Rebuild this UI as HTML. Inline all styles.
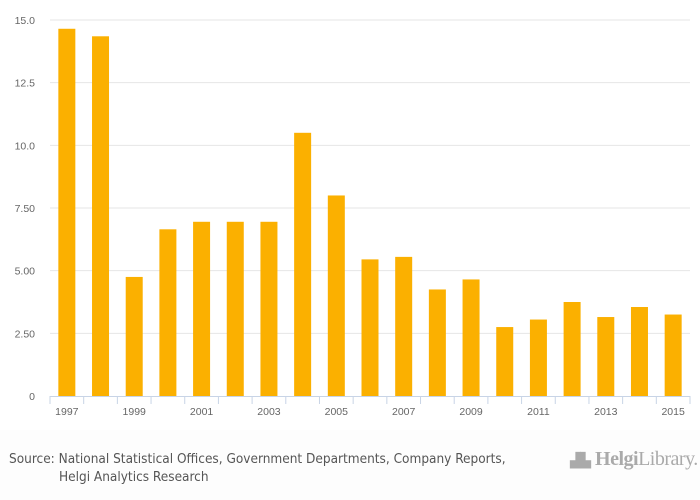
<!DOCTYPE html>
<html><head><meta charset="utf-8"><style>
body{margin:0;background:#fff;font-family:"Liberation Sans",sans-serif}
#wrap{position:relative;width:700px;height:500px;overflow:hidden;background:#fff}
#footer{position:absolute;left:0;top:430px;width:700px;height:70px;background:#fdfdfd}
#src{position:absolute;left:9px;top:450px;font-size:13.5px;line-height:18px;color:#555;font-family:"DejaVu Sans Condensed","Liberation Sans Narrow","Liberation Sans",sans-serif}
#logo{position:absolute;left:570px;top:448px;font-size:20px;color:#aaa;font-family:"Liberation Serif",serif;letter-spacing:-0.5px}
</style></head><body>
<div id="wrap">
<svg id="chart" width="700" height="430" style="position:absolute;left:0;top:0"></svg>
<div id="footer"></div>
<div id="src">Source: National Statistical Offices, Government Departments, Company Reports,<br><span style="padding-left:50px">Helgi Analytics Research</span></div>
<div id="logo"><span style="font-size:14px">▟▙</span> <b style="font-weight:bold">Helgi</b>Library.</div>
</div>
<script>
const categories=["1997","1998","1999","2000","2001","2002","2003","2004","2005","2006","2007","2008","2009","2010","2011","2012","2013","2014","2015"];
const values=[14.65,14.35,4.75,6.65,6.95,6.95,6.95,10.5,8.0,5.45,5.55,4.25,4.65,2.75,3.05,3.75,3.15,3.55,3.25];
const yTicks=[0,2.5,5,7.5,10,12.5,15];
const yTickLabels=["0","2.50","5.00","7.50","10.0","12.5","15.0"];
const NS="http://www.w3.org/2000/svg";
const svg=document.getElementById('chart');
const x0=50,x1=690,y0=396,yTop=20,yMax=15;
const step=(x1-x0)/categories.length;
function y(v){return y0-(v/yMax)*(y0-yTop);}
function xc(i){return x0+step*(i+0.5);}
function mk(t,a){const e=document.createElementNS(NS,t);for(const k in a)e.setAttribute(k,a[k]);svg.appendChild(e);return e;}
yTicks.forEach((t,i)=>{
  if(t>0){const g=mk('line',{x1:x0,x2:x1,y1:y(t),y2:y(t),stroke:'#e6e6e6','stroke-width':1});
  
  }
  const l=mk('text',{x:35,y:y(t)+4,'text-anchor':'end','font-size':'10.5',fill:'#666','font-family':'Liberation Sans, sans-serif'});
  l.textContent=yTickLabels[i];
  
  
});
values.forEach((v,i)=>{
  const r=mk('rect',{x:xc(i)-8.5,y:y(v),width:17,height:y0-y(v),fill:'#fbb000'});
  
  
});
const ax=mk('line',{x1:x0,x2:x1,y1:y0+0.5,y2:y0+0.5,stroke:'#c8d4e6','stroke-width':1});


for(let i=0;i<=categories.length;i++){
  const tk=mk('line',{x1:x0+step*i,x2:x0+step*i,y1:y0,y2:y0+8,stroke:'#c8d4e6','stroke-width':1});
  
  
}
categories.forEach((c,i)=>{
  if(i%2) return;
  const t=mk('text',{x:xc(i),y:415,'text-anchor':'middle','font-size':'10.5',fill:'#666','font-family':'Liberation Sans, sans-serif'});
  t.textContent=c;
  
  
});
</script>
</body></html>
